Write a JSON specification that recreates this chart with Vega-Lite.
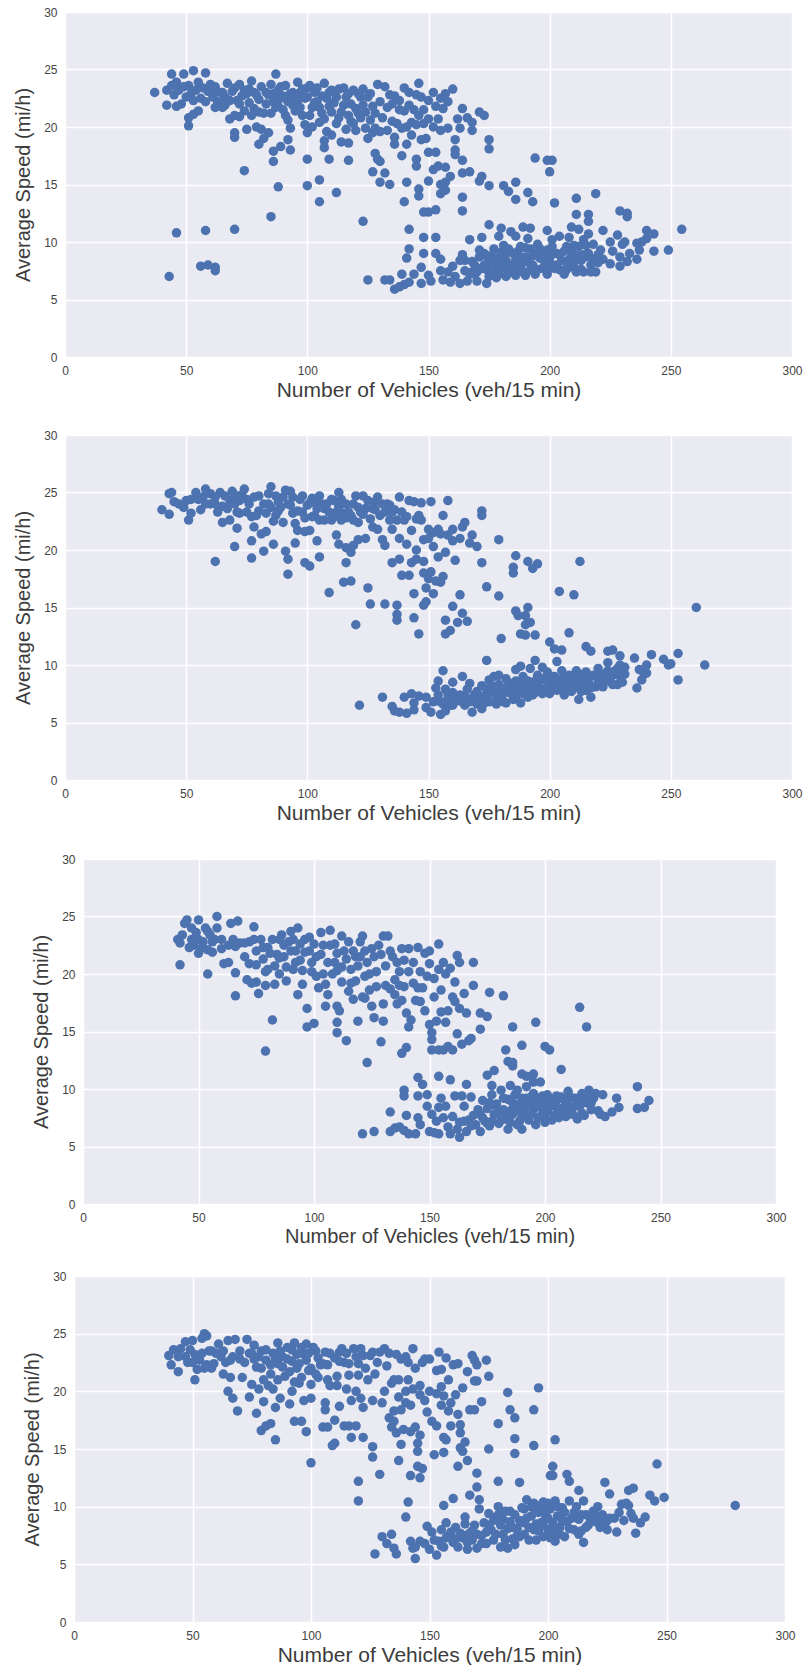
{"$schema":"https://vega.github.io/schema/vega-lite/v6.json","padding":{"top":6,"left":0,"right":0,"bottom":0},"background":"white","spacing":0,
"config":{"view":{"fill":"#EAEAF2","stroke":null},"concat":{"spacing":0},
"axis":{"grid":true,"gridColor":"white","gridWidth":1.5,"domain":false,"ticks":false,"labelFont":"Liberation Sans","labelFontSize":12,"labelColor":"#444444","labelPadding":8,"labelFlush":false,"titleFont":"Liberation Sans","titleFontWeight":"normal","titleFontSize":20,"titleColor":"#3c3c3c"},
"axisX":{"labelAngle":0,"tickCount":7,"titlePadding":3,"titleFontSize":21},"axisY":{"tickCount":7,"titlePadding":10},
"point":{"filled":true,"opacity":1,"color":"#4C72B0","size":90}},
"vconcat":[
{"hconcat":[{"width":13,"height":417,"view":{"fill":null},"data":{"values":[]},"mark":"point","encoding":{}},
{"width":727,"height":345,"data":{"values":[{"n":37,"s":23},{"n":42,"s":23.2},{"n":42,"s":21.9},{"n":44,"s":24.6},{"n":44,"s":23.6},{"n":45,"s":22.8},{"n":46,"s":23.9},{"n":46,"s":21.8},{"n":47,"s":23.2},{"n":48,"s":22},{"n":49,"s":24.6},{"n":49,"s":23.5},{"n":50,"s":22.6},{"n":51,"s":23.6},{"n":51,"s":20.1},{"n":51,"s":20.8},{"n":52,"s":22.9},{"n":53,"s":24.9},{"n":53,"s":21.1},{"n":54,"s":23.2},{"n":55,"s":21.4},{"n":55,"s":23.9},{"n":56,"s":22.5},{"n":57,"s":23.4},{"n":58,"s":24.7},{"n":59,"s":23.1},{"n":60,"s":23.7},{"n":61,"s":22.6},{"n":62,"s":21.7},{"n":62,"s":23.5},{"n":63,"s":22.2},{"n":64,"s":23},{"n":65,"s":21.7},{"n":66,"s":22.6},{"n":67,"s":23.8},{"n":68,"s":20.7},{"n":69,"s":23.1},{"n":70,"s":21},{"n":70,"s":19.5},{"n":70,"s":19.1},{"n":71,"s":22.3},{"n":72,"s":23.7},{"n":72,"s":20.9},{"n":74,"s":21.4},{"n":75,"s":22.9},{"n":75,"s":19.8},{"n":76,"s":22.1},{"n":77,"s":24},{"n":78,"s":23},{"n":78,"s":21.6},{"n":79,"s":20},{"n":80,"s":22.4},{"n":81,"s":19.8},{"n":81,"s":23.5},{"n":82,"s":21.2},{"n":82,"s":19},{"n":80,"s":18.5},{"n":84,"s":19.5},{"n":84,"s":22.8},{"n":85,"s":23.7},{"n":86,"s":22.2},{"n":87,"s":24.6},{"n":87,"s":21.7},{"n":88,"s":23.2},{"n":89,"s":22.5},{"n":90,"s":21.5},{"n":91,"s":23.6},{"n":92,"s":22.2},{"n":92,"s":20.6},{"n":93,"s":19.9},{"n":94,"s":23},{"n":95,"s":21.4},{"n":96,"s":23.9},{"n":96,"s":22.3},{"n":98,"s":23.3},{"n":98,"s":21},{"n":99,"s":20.2},{"n":100,"s":22.6},{"n":100,"s":19.5},{"n":101,"s":23.6},{"n":102,"s":21.7},{"n":102,"s":20},{"n":103,"s":23},{"n":104,"s":22.2},{"n":105,"s":20.4},{"n":106,"s":21.2},{"n":107,"s":23.8},{"n":107,"s":18.2},{"n":107,"s":18.8},{"n":108,"s":22.5},{"n":108,"s":19.6},{"n":110,"s":23.2},{"n":110,"s":21.3},{"n":110,"s":19.3},{"n":112,"s":22.6},{"n":113,"s":20.8},{"n":114,"s":18.7},{"n":115,"s":23.4},{"n":115,"s":21.9},{"n":116,"s":19.8},{"n":117,"s":18.6},{"n":117,"s":22.9},{"n":118,"s":20.5},{"n":119,"s":23.2},{"n":120,"s":21.6},{"n":120,"s":19.7},{"n":122,"s":22.6},{"n":122,"s":20.8},{"n":123,"s":23.3},{"n":124,"s":21.3},{"n":124,"s":19.9},{"n":125,"s":19},{"n":126,"s":22.9},{"n":127,"s":19.5},{"n":128,"s":21.2},{"n":129,"s":23.7},{"n":130,"s":22.2},{"n":130,"s":19.6},{"n":132,"s":23.5},{"n":133,"s":19.7},{"n":133,"s":21.7},{"n":135,"s":22},{"n":136,"s":22.7},{"n":136,"s":18.5},{"n":136,"s":19.1},{"n":137,"s":20.3},{"n":138,"s":21.5},{"n":139,"s":19.9},{"n":140,"s":23.4},{"n":140,"s":21.4},{"n":141,"s":20},{"n":142,"s":23},{"n":143,"s":20.4},{"n":144,"s":21.5},{"n":145,"s":20.2},{"n":146,"s":23.8},{"n":147,"s":22.6},{"n":147,"s":18.9},{"n":148,"s":21.5},{"n":148,"s":20.3},{"n":149,"s":19},{"n":150,"s":22.3},{"n":152,"s":23},{"n":152,"s":20},{"n":153,"s":21.8},{"n":154,"s":20.7},{"n":155,"s":19.7},{"n":156,"s":21.6},{"n":157,"s":22.9},{"n":158,"s":19.9},{"n":158,"s":22.2},{"n":160,"s":23.3},{"n":161,"s":18.9},{"n":161,"s":18},{"n":161,"s":17.6},{"n":162,"s":20.7},{"n":163,"s":19.9},{"n":164,"s":21.6},{"n":166,"s":20.8},{"n":53,"s":22.3},{"n":58,"s":22.2},{"n":61,"s":23.2},{"n":65,"s":23},{"n":66,"s":21.9},{"n":68,"s":22.3},{"n":70,"s":23.4},{"n":72,"s":22},{"n":73,"s":22.7},{"n":74,"s":23.2},{"n":76,"s":23.3},{"n":77,"s":21},{"n":79,"s":22.8},{"n":80,"s":21.3},{"n":83,"s":23},{"n":83,"s":22},{"n":85,"s":21.2},{"n":86,"s":22.9},{"n":88,"s":21.8},{"n":89,"s":23.5},{"n":90,"s":22.7},{"n":91,"s":21},{"n":93,"s":22.9},{"n":94,"s":21.9},{"n":95,"s":22.6},{"n":97,"s":23},{"n":97,"s":21.7},{"n":99,"s":22.5},{"n":100,"s":23.4},{"n":101,"s":21},{"n":103,"s":22.1},{"n":104,"s":23.4},{"n":105,"s":21.7},{"n":106,"s":22.7},{"n":107,"s":20.7},{"n":109,"s":23},{"n":109,"s":21.8},{"n":111,"s":22.1},{"n":112,"s":20.3},{"n":113,"s":23.3},{"n":114,"s":21.3},{"n":116,"s":22.6},{"n":117,"s":21},{"n":118,"s":22},{"n":119,"s":20.3},{"n":121,"s":22.9},{"n":121,"s":21.2},{"n":123,"s":21.9},{"n":125,"s":22.6},{"n":126,"s":20.6},{"n":127,"s":21.8},{"n":128,"s":19.9},{"n":131,"s":20.8},{"n":134,"s":22.8},{"n":135,"s":20.5},{"n":138,"s":22.3},{"n":142,"s":21.9},{"n":143,"s":19.3},{"n":145,"s":22.8},{"n":146,"s":21},{"n":150,"s":20.7},{"n":155,"s":22.5},{"n":74,"s":16.2},{"n":86,"s":17},{"n":86,"s":17.9},{"n":88,"s":14.8},{"n":85,"s":12.2},{"n":89,"s":18.3},{"n":92,"s":18.9},{"n":93,"s":18},{"n":100,"s":17.2},{"n":100,"s":14.9},{"n":105,"s":15.4},{"n":105,"s":13.5},{"n":109,"s":17.2},{"n":112,"s":14.3},{"n":117,"s":17.1},{"n":123,"s":11.8},{"n":70,"s":11.1},{"n":58,"s":11},{"n":46,"s":10.8},{"n":43,"s":7},{"n":56,"s":7.9},{"n":59,"s":8},{"n":62,"s":7.8},{"n":62,"s":7.5},{"n":127,"s":16.1},{"n":128,"s":17.7},{"n":129,"s":17.2},{"n":130,"s":17},{"n":130,"s":15.2},{"n":132,"s":16},{"n":134,"s":15},{"n":139,"s":17.5},{"n":140,"s":13.5},{"n":141,"s":15.2},{"n":141,"s":18.5},{"n":145,"s":17.2},{"n":145,"s":16.6},{"n":146,"s":14.6},{"n":146,"s":14},{"n":148,"s":12.6},{"n":150,"s":12.6},{"n":153,"s":12.8},{"n":150,"s":15.3},{"n":150,"s":17.8},{"n":153,"s":17.8},{"n":152,"s":16.3},{"n":154,"s":16.6},{"n":157,"s":16.5},{"n":155,"s":15},{"n":155,"s":14.2},{"n":157,"s":15.2},{"n":157,"s":14.5},{"n":159,"s":15.7},{"n":164,"s":17.1},{"n":164,"s":16},{"n":167,"s":16.1},{"n":164,"s":13.9},{"n":164,"s":12.7},{"n":171,"s":15.3},{"n":172,"s":15.7},{"n":175,"s":14.9},{"n":175,"s":18.1},{"n":175,"s":18.9},{"n":171,"s":21.3},{"n":173,"s":21},{"n":168,"s":19.7},{"n":168,"s":20.4},{"n":181,"s":14.9},{"n":183,"s":14.4},{"n":186,"s":13.7},{"n":186,"s":15.2},{"n":191,"s":14.3},{"n":193,"s":13.5},{"n":194,"s":17.3},{"n":199,"s":17.1},{"n":201,"s":17.1},{"n":200,"s":16.1},{"n":202,"s":13.4},{"n":211,"s":13.8},{"n":219,"s":14.2},{"n":211,"s":12.4},{"n":216,"s":12.4},{"n":216,"s":11.8},{"n":229,"s":12.7},{"n":232,"s":12.5},{"n":232,"s":12.2},{"n":125,"s":6.7},{"n":132,"s":6.7},{"n":134,"s":6.7},{"n":136,"s":5.9},{"n":138,"s":6.1},{"n":139,"s":7.2},{"n":140,"s":6.3},{"n":141,"s":8.6},{"n":142,"s":9.4},{"n":142,"s":11.1},{"n":142,"s":6.5},{"n":144,"s":7.2},{"n":147,"s":7.8},{"n":147,"s":6.4},{"n":148,"s":10.4},{"n":148,"s":9},{"n":150,"s":7.1},{"n":151,"s":6.6},{"n":153,"s":10.4},{"n":153,"s":9},{"n":155,"s":8.5},{"n":155,"s":7.5},{"n":156,"s":6.7},{"n":158,"s":7.4},{"n":159,"s":6.5},{"n":160,"s":7.9},{"n":161,"s":7},{"n":163,"s":8.4},{"n":163,"s":6.4},{"n":164,"s":8.9},{"n":165,"s":7.5},{"n":166,"s":6.6},{"n":167,"s":10.2},{"n":168,"s":8.3},{"n":168,"s":7.4},{"n":169,"s":7.2},{"n":170,"s":6.6},{"n":171,"s":8.7},{"n":172,"s":10.4},{"n":172,"s":7.7},{"n":173,"s":9},{"n":174,"s":6.4},{"n":174,"s":7.6},{"n":175,"s":11.5},{"n":175,"s":8.2},{"n":176,"s":7.2},{"n":176,"s":8.8},{"n":177,"s":9.4},{"n":178,"s":8.6},{"n":178,"s":6.9},{"n":178,"s":7.5},{"n":179,"s":10.5},{"n":180,"s":11.2},{"n":180,"s":7.7},{"n":180,"s":9.1},{"n":181,"s":9.7},{"n":182,"s":8.4},{"n":182,"s":7},{"n":183,"s":8},{"n":184,"s":9.1},{"n":184,"s":7.7},{"n":184,"s":10.9},{"n":186,"s":8.5},{"n":186,"s":7.1},{"n":186,"s":10.5},{"n":187,"s":9.2},{"n":188,"s":9.6},{"n":188,"s":7.8},{"n":189,"s":11.3},{"n":189,"s":8.2},{"n":190,"s":8.7},{"n":190,"s":7.1},{"n":191,"s":10.3},{"n":192,"s":11.2},{"n":192,"s":9.4},{"n":193,"s":8},{"n":194,"s":7.2},{"n":194,"s":9},{"n":195,"s":9.8},{"n":196,"s":8.6},{"n":197,"s":7.7},{"n":197,"s":8.5},{"n":198,"s":7.9},{"n":199,"s":11},{"n":199,"s":9.3},{"n":199,"s":7.2},{"n":200,"s":8.3},{"n":201,"s":10.2},{"n":201,"s":8.9},{"n":202,"s":7.7},{"n":203,"s":9},{"n":204,"s":10.5},{"n":204,"s":7.6},{"n":205,"s":8.4},{"n":206,"s":7.2},{"n":207,"s":9.6},{"n":207,"s":8.2},{"n":208,"s":10.4},{"n":208,"s":7.8},{"n":209,"s":11.3},{"n":209,"s":9.2},{"n":210,"s":8.9},{"n":211,"s":7.4},{"n":211,"s":8.5},{"n":212,"s":9.6},{"n":212,"s":11.1},{"n":213,"s":8.4},{"n":214,"s":10.2},{"n":214,"s":7.4},{"n":215,"s":8.7},{"n":216,"s":9},{"n":216,"s":10.7},{"n":217,"s":8},{"n":218,"s":9.8},{"n":219,"s":7.4},{"n":220,"s":8.9},{"n":222,"s":11},{"n":222,"s":8.5},{"n":225,"s":8.1},{"n":225,"s":10},{"n":226,"s":9.2},{"n":228,"s":10.6},{"n":229,"s":8.7},{"n":229,"s":7.9},{"n":230,"s":9.8},{"n":231,"s":10},{"n":232,"s":8.3},{"n":233,"s":9},{"n":236,"s":8.5},{"n":236,"s":9.9},{"n":237,"s":9.3},{"n":238,"s":10},{"n":240,"s":11},{"n":240,"s":10.3},{"n":243,"s":10.7},{"n":243,"s":9.2},{"n":249,"s":9.3},{"n":254.5,"s":11.1},{"n":165,"s":8.4},{"n":167,"s":7.2},{"n":169,"s":8},{"n":170,"s":7.4},{"n":171,"s":9.3},{"n":173,"s":8},{"n":174,"s":8.8},{"n":175,"s":7},{"n":177,"s":8},{"n":179,"s":7.2},{"n":179,"s":8.2},{"n":181,"s":8.8},{"n":183,"s":9.4},{"n":183,"s":7.3},{"n":185,"s":8},{"n":185,"s":9},{"n":187,"s":7.6},{"n":187,"s":8.7},{"n":189,"s":7.4},{"n":190,"s":9.5},{"n":191,"s":8.3},{"n":192,"s":7.6},{"n":193,"s":8.8},{"n":195,"s":7.6},{"n":196,"s":9.4},{"n":198,"s":8.9},{"n":200,"s":7.7},{"n":201,"s":9.6},{"n":203,"s":8},{"n":204,"s":8.9},{"n":205,"s":7.5},{"n":206,"s":9.2},{"n":207,"s":7.6},{"n":208,"s":8.5},{"n":210,"s":7.9},{"n":210,"s":9.7},{"n":212,"s":8.8},{"n":213,"s":7.6},{"n":214,"s":8.9},{"n":215,"s":9.7},{"n":217,"s":7.4},{"n":218,"s":8.5},{"n":220,"s":8.2},{"n":221,"s":9.3}]},"mark":"point","encoding":{"x":{"field":"n","type":"quantitative","scale":{"domain":[0,300]},"title":"Number of Vehicles (veh/15 min)"},"y":{"field":"s","type":"quantitative","scale":{"domain":[0,30]},"title":"Average Speed (mi/h)"}}}]},
{"hconcat":[{"width":13,"height":418,"view":{"fill":null},"data":{"values":[]},"mark":"point","encoding":{}},
{"width":727,"height":345,"data":{"values":[{"n":40,"s":23.5},{"n":43,"s":23.1},{"n":43,"s":24.9},{"n":44,"s":25},{"n":45,"s":24.2},{"n":47,"s":24},{"n":49,"s":23.7},{"n":51,"s":22.6},{"n":52,"s":23.2},{"n":54,"s":25},{"n":52,"s":24.4},{"n":56,"s":23.5},{"n":57,"s":24.6},{"n":58,"s":25.3},{"n":60,"s":24.9},{"n":60,"s":24},{"n":62,"s":24},{"n":64,"s":25},{"n":65,"s":23.8},{"n":65,"s":22.4},{"n":66,"s":24.7},{"n":68,"s":22.6},{"n":68,"s":24.3},{"n":69,"s":25.1},{"n":70,"s":24},{"n":71,"s":21.9},{"n":72,"s":23.2},{"n":73,"s":24.8},{"n":74,"s":25.3},{"n":75,"s":24.4},{"n":70,"s":20.3},{"n":62,"s":19},{"n":76,"s":24},{"n":77,"s":22.9},{"n":77,"s":20.8},{"n":77,"s":19.3},{"n":78,"s":22},{"n":80,"s":24.7},{"n":80,"s":23.4},{"n":81,"s":21.4},{"n":82,"s":19.9},{"n":82,"s":24},{"n":83,"s":21.6},{"n":84,"s":24.9},{"n":85,"s":25.5},{"n":85,"s":23.7},{"n":86,"s":22.5},{"n":86,"s":20.5},{"n":88,"s":24.2},{"n":88,"s":23.4},{"n":90,"s":22.4},{"n":91,"s":25.2},{"n":91,"s":19.9},{"n":92,"s":19.2},{"n":92,"s":17.9},{"n":92,"s":24},{"n":93,"s":23.9},{"n":93,"s":25.1},{"n":95,"s":22.3},{"n":95,"s":20.6},{"n":96,"s":21.7},{"n":97,"s":24.4},{"n":98,"s":23.3},{"n":99,"s":21.6},{"n":99,"s":18.9},{"n":100,"s":23.9},{"n":101,"s":21.7},{"n":101,"s":18.6},{"n":102,"s":24.5},{"n":103,"s":23},{"n":103,"s":24.2},{"n":104,"s":20.8},{"n":105,"s":24.7},{"n":105,"s":22.6},{"n":105,"s":19.4},{"n":107,"s":23.6},{"n":108,"s":24},{"n":109,"s":16.3},{"n":110,"s":22.6},{"n":111,"s":24.3},{"n":112,"s":21.3},{"n":112,"s":23.3},{"n":113,"s":25},{"n":113,"s":20.5},{"n":113,"s":23.8},{"n":114,"s":22.6},{"n":115,"s":17.2},{"n":116,"s":24},{"n":116,"s":20.2},{"n":116,"s":18.9},{"n":117,"s":23.3},{"n":118,"s":19.8},{"n":118,"s":17.3},{"n":118,"s":23},{"n":119,"s":20.4},{"n":120,"s":24.7},{"n":120,"s":13.5},{"n":121,"s":22.4},{"n":121,"s":20.9},{"n":122,"s":23.3},{"n":123,"s":24.7},{"n":124,"s":21},{"n":124,"s":23.6},{"n":125,"s":16.7},{"n":126,"s":15.3},{"n":127,"s":22},{"n":127,"s":23.6},{"n":128,"s":23.5},{"n":129,"s":24.6},{"n":129,"s":21.8},{"n":130,"s":23},{"n":131,"s":20.9},{"n":132,"s":20.4},{"n":132,"s":15.3},{"n":133,"s":24},{"n":134,"s":22.6},{"n":135,"s":21.8},{"n":135,"s":18.9},{"n":136,"s":23.5},{"n":137,"s":15.2},{"n":137,"s":14.4},{"n":137,"s":13.9},{"n":138,"s":24.6},{"n":138,"s":19.2},{"n":138,"s":21},{"n":139,"s":17.8},{"n":140,"s":22.6},{"n":141,"s":20.5},{"n":142,"s":24.3},{"n":142,"s":17.8},{"n":143,"s":18.9},{"n":143,"s":21.7},{"n":144,"s":24.2},{"n":144,"s":16.2},{"n":144,"s":14.1},{"n":145,"s":20},{"n":145,"s":19.2},{"n":146,"s":23},{"n":146,"s":12.7},{"n":147,"s":24.1},{"n":148,"s":20.9},{"n":148,"s":19},{"n":148,"s":18},{"n":148,"s":15.2},{"n":149,"s":16.7},{"n":149,"s":15.5},{"n":150,"s":21},{"n":150,"s":17.5},{"n":151,"s":24.2},{"n":151,"s":18.1},{"n":152,"s":16.2},{"n":152,"s":21.5},{"n":152,"s":20.3},{"n":153,"s":17.3},{"n":154,"s":21.8},{"n":154,"s":19.4},{"n":155,"s":17.2},{"n":156,"s":23},{"n":156,"s":17.7},{"n":157,"s":19.8},{"n":157,"s":13.9},{"n":157,"s":12.7},{"n":158,"s":24.3},{"n":158,"s":21.3},{"n":159,"s":13},{"n":160,"s":15.1},{"n":160,"s":21.8},{"n":160,"s":20.8},{"n":161,"s":19.1},{"n":162,"s":13.7},{"n":163,"s":21},{"n":163,"s":16.1},{"n":164,"s":22},{"n":164,"s":14.5},{"n":165,"s":22.4},{"n":166,"s":13.8},{"n":167,"s":20.6},{"n":168,"s":21.3},{"n":170,"s":20.3},{"n":172,"s":23.4},{"n":172,"s":23},{"n":172,"s":18.9},{"n":174,"s":16.8},{"n":179,"s":20.9},{"n":179,"s":16},{"n":185,"s":18.5},{"n":185,"s":18},{"n":186,"s":19.5},{"n":186,"s":14.7},{"n":187,"s":14.3},{"n":191,"s":19},{"n":190,"s":13.5},{"n":190,"s":14.3},{"n":191,"s":15},{"n":192,"s":13.7},{"n":188,"s":12.7},{"n":190,"s":12.6},{"n":194,"s":12.6},{"n":193,"s":18.4},{"n":195,"s":18.8},{"n":180,"s":12.3},{"n":204,"s":16.4},{"n":210,"s":16.1},{"n":212.5,"s":19},{"n":208,"s":12.8},{"n":200,"s":12},{"n":202,"s":11.4},{"n":205,"s":11.3},{"n":215,"s":11.6},{"n":217,"s":11.2},{"n":224,"s":11.2},{"n":226,"s":11.3},{"n":229,"s":10.8},{"n":235,"s":10.6},{"n":242,"s":10.9},{"n":247,"s":10.5},{"n":249,"s":10},{"n":250,"s":10.1},{"n":253,"s":11},{"n":253,"s":8.7},{"n":260.5,"s":15},{"n":264,"s":10},{"n":50,"s":24.3},{"n":55,"s":24.4},{"n":58,"s":24},{"n":62,"s":24.6},{"n":63,"s":23.3},{"n":67,"s":23.6},{"n":70,"s":24.8},{"n":71,"s":23.3},{"n":72,"s":24.3},{"n":75,"s":23.3},{"n":78,"s":24.6},{"n":79,"s":23},{"n":83,"s":23.2},{"n":84,"s":24},{"n":87,"s":24.7},{"n":87,"s":23},{"n":89,"s":23.7},{"n":90,"s":24.6},{"n":94,"s":24.6},{"n":94,"s":23.2},{"n":96,"s":23.4},{"n":98,"s":24.7},{"n":99,"s":22.8},{"n":101,"s":24.1},{"n":102,"s":22.9},{"n":104,"s":23.6},{"n":106,"s":24},{"n":107,"s":22.6},{"n":109,"s":23.3},{"n":110,"s":24.4},{"n":111,"s":22.9},{"n":114,"s":24.4},{"n":115,"s":23.2},{"n":116,"s":22.8},{"n":119,"s":24},{"n":119,"s":22.6},{"n":121,"s":23.7},{"n":123,"s":23.1},{"n":125,"s":24.3},{"n":126,"s":22.7},{"n":128,"s":24.2},{"n":131,"s":24},{"n":132,"s":23.3},{"n":134,"s":23.9},{"n":135,"s":23.3},{"n":137,"s":22.6},{"n":139,"s":23.3},{"n":141,"s":22.9},{"n":145,"s":22.7},{"n":147,"s":22.6},{"n":150,"s":21.8},{"n":155,"s":21.4},{"n":121.5,"s":6.5},{"n":131,"s":7.2},{"n":135,"s":6.4},{"n":136,"s":6},{"n":138,"s":5.9},{"n":140,"s":7.2},{"n":141,"s":5.8},{"n":143,"s":7.5},{"n":144,"s":6.1},{"n":144,"s":6.7},{"n":146,"s":7.3},{"n":149,"s":7.2},{"n":149,"s":6.3},{"n":151,"s":5.9},{"n":152,"s":6.8},{"n":153,"s":8},{"n":154,"s":8.6},{"n":154,"s":7.4},{"n":155,"s":5.7},{"n":156,"s":6.6},{"n":156,"s":9.5},{"n":157,"s":7.9},{"n":157,"s":6},{"n":158,"s":7.1},{"n":159,"s":6.5},{"n":160,"s":8.5},{"n":160,"s":7.6},{"n":162,"s":6.9},{"n":163,"s":7.4},{"n":164,"s":9},{"n":165,"s":6.5},{"n":166,"s":7.9},{"n":167,"s":8.4},{"n":168,"s":5.9},{"n":168,"s":7.1},{"n":170,"s":6.6},{"n":170,"s":7.7},{"n":172,"s":6.2},{"n":172,"s":8.2},{"n":173,"s":7.3},{"n":174,"s":10.4},{"n":175,"s":8.7},{"n":175,"s":6.8},{"n":177,"s":7.7},{"n":177,"s":9},{"n":178,"s":6.6},{"n":179,"s":8.3},{"n":179,"s":9.1},{"n":180,"s":7.2},{"n":182,"s":8.8},{"n":182,"s":6.7},{"n":183,"s":7.9},{"n":184,"s":8.4},{"n":185,"s":7},{"n":186,"s":9.6},{"n":186,"s":8.6},{"n":187,"s":7.7},{"n":188,"s":6.7},{"n":188,"s":9.9},{"n":189,"s":9},{"n":190,"s":8.1},{"n":191,"s":7.2},{"n":192,"s":9.7},{"n":192,"s":8.5},{"n":193,"s":7.4},{"n":194,"s":10.4},{"n":195,"s":9.1},{"n":196,"s":8},{"n":197,"s":7.5},{"n":197,"s":9.8},{"n":198,"s":8.7},{"n":199,"s":9.4},{"n":200,"s":7.5},{"n":200,"s":8.4},{"n":202,"s":9},{"n":203,"s":7.8},{"n":203,"s":10.3},{"n":204,"s":8.6},{"n":205,"s":9.5},{"n":206,"s":7.4},{"n":207,"s":8.3},{"n":208,"s":9.1},{"n":209,"s":7.7},{"n":210,"s":8.6},{"n":211,"s":9.5},{"n":212,"s":7},{"n":212,"s":8.2},{"n":213,"s":8.9},{"n":215,"s":9.4},{"n":215,"s":7.8},{"n":216,"s":8.5},{"n":217,"s":7.2},{"n":218,"s":9.1},{"n":219,"s":8.1},{"n":220,"s":9.7},{"n":221,"s":8.7},{"n":222,"s":8.1},{"n":224,"s":9.5},{"n":224,"s":10.2},{"n":225,"s":8.6},{"n":226,"s":9.1},{"n":228,"s":8.3},{"n":228,"s":9.7},{"n":229,"s":10},{"n":230,"s":8.5},{"n":231,"s":9.2},{"n":231,"s":9.8},{"n":236,"s":8},{"n":237,"s":9.6},{"n":238,"s":8.7},{"n":239,"s":9.2},{"n":240,"s":10},{"n":240,"s":9.3},{"n":155,"s":6.8},{"n":158,"s":7.5},{"n":160,"s":6.5},{"n":161,"s":7.1},{"n":164,"s":6.8},{"n":165,"s":7.3},{"n":167,"s":6.8},{"n":169,"s":7.4},{"n":171,"s":7},{"n":173,"s":6.7},{"n":174,"s":7.9},{"n":175,"s":7.5},{"n":176,"s":8.2},{"n":178,"s":7.3},{"n":180,"s":8},{"n":181,"s":7.5},{"n":181,"s":6.8},{"n":183,"s":8.2},{"n":184,"s":7.5},{"n":185,"s":8},{"n":186,"s":7.2},{"n":187,"s":8.3},{"n":189,"s":7.5},{"n":189,"s":8.5},{"n":191,"s":8.6},{"n":192,"s":7.9},{"n":194,"s":8.6},{"n":194,"s":7.6},{"n":195,"s":8.2},{"n":197,"s":8.8},{"n":198,"s":7.9},{"n":199,"s":8.7},{"n":201,"s":8},{"n":201,"s":9},{"n":203,"s":8.3},{"n":205,"s":8.8},{"n":205,"s":8},{"n":207,"s":8.9},{"n":208,"s":7.8},{"n":209,"s":8.4},{"n":210,"s":9.1},{"n":211,"s":8.1},{"n":213,"s":7.7},{"n":214,"s":8.5},{"n":214,"s":9.2},{"n":216,"s":9},{"n":217,"s":8},{"n":219,"s":9},{"n":220,"s":8.5},{"n":222,"s":9.2},{"n":223,"s":8.7},{"n":226,"s":8.3},{"n":227,"s":9.5},{"n":229,"s":9},{"n":230,"s":9.8}]},"mark":"point","encoding":{"x":{"field":"n","type":"quantitative","scale":{"domain":[0,300]},"title":"Number of Vehicles (veh/15 min)"},"y":{"field":"s","type":"quantitative","scale":{"domain":[0,30]},"title":"Average Speed (mi/h)"}}}]},
{"hconcat":[{"width":31,"height":411,"view":{"fill":null},"data":{"values":[]},"mark":"point","encoding":{}},
{"width":693,"height":345,"data":{"values":[{"n":41,"s":23},{"n":42,"s":22.7},{"n":43,"s":23.4},{"n":42,"s":20.8},{"n":44,"s":24.4},{"n":45,"s":24.7},{"n":47,"s":23},{"n":48,"s":22.5},{"n":49,"s":23.6},{"n":50,"s":24.7},{"n":50,"s":21.8},{"n":52,"s":22.8},{"n":53,"s":24},{"n":54,"s":20},{"n":54,"s":22.1},{"n":55,"s":23.4},{"n":56,"s":21.9},{"n":57,"s":23},{"n":58,"s":25},{"n":58,"s":24},{"n":60,"s":23},{"n":61,"s":20.9},{"n":63,"s":21},{"n":63,"s":22.5},{"n":64,"s":24.4},{"n":65,"s":23},{"n":66,"s":20.1},{"n":66,"s":18.1},{"n":67,"s":24.6},{"n":68,"s":22.7},{"n":70,"s":21.5},{"n":71,"s":19.5},{"n":72,"s":20.9},{"n":72,"s":22.8},{"n":73,"s":19.2},{"n":74,"s":24.1},{"n":75,"s":22},{"n":75,"s":19.3},{"n":76,"s":18.3},{"n":77,"s":23},{"n":78,"s":21.3},{"n":79,"s":13.3},{"n":79,"s":19},{"n":80,"s":20.4},{"n":80,"s":22.3},{"n":82,"s":16},{"n":82,"s":23},{"n":83,"s":19.1},{"n":84,"s":21.7},{"n":85,"s":20},{"n":86,"s":23.4},{"n":87,"s":21.5},{"n":88,"s":19.4},{"n":89,"s":22.8},{"n":90,"s":23.7},{"n":91,"s":20.4},{"n":92,"s":22},{"n":93,"s":24},{"n":93,"s":18.2},{"n":94,"s":21.2},{"n":95,"s":19.1},{"n":96,"s":23},{"n":97,"s":17},{"n":97,"s":15.4},{"n":98,"s":22},{"n":99,"s":20.2},{"n":100,"s":15.7},{"n":101,"s":21.5},{"n":102,"s":18.8},{"n":103,"s":23.6},{"n":104,"s":20},{"n":105,"s":17.2},{"n":106,"s":18.2},{"n":107,"s":22.5},{"n":107,"s":23.8},{"n":109,"s":21},{"n":110,"s":20.3},{"n":110,"s":17.2},{"n":110,"s":15.8},{"n":110,"s":14.9},{"n":111,"s":16.8},{"n":112,"s":23.3},{"n":112,"s":19.3},{"n":113,"s":22},{"n":114,"s":14.2},{"n":115,"s":18.5},{"n":116,"s":20.4},{"n":117,"s":17.8},{"n":118,"s":21.5},{"n":118,"s":19.4},{"n":119,"s":15.9},{"n":120,"s":22.8},{"n":121,"s":23.3},{"n":121,"s":18},{"n":122,"s":19.8},{"n":123,"s":12.3},{"n":123,"s":21},{"n":124,"s":18.6},{"n":125,"s":22.2},{"n":125,"s":17.2},{"n":126,"s":16.2},{"n":127,"s":20.2},{"n":128,"s":22.5},{"n":129,"s":14.1},{"n":130,"s":23.3},{"n":130,"s":15.9},{"n":130,"s":17.4},{"n":131,"s":20.7},{"n":132,"s":23.3},{"n":133,"s":18.7},{"n":134,"s":21.5},{"n":135,"s":19.5},{"n":135,"s":18.2},{"n":136,"s":17.4},{"n":137,"s":20.2},{"n":138,"s":22.2},{"n":138,"s":17.7},{"n":139,"s":18.9},{"n":138,"s":13.1},{"n":140,"s":16.6},{"n":140,"s":13.6},{"n":141,"s":15.4},{"n":141,"s":22.2},{"n":142,"s":16},{"n":143,"s":21},{"n":143,"s":19.2},{"n":144,"s":17.7},{"n":145,"s":22.3},{"n":146,"s":20.2},{"n":146,"s":17.6},{"n":147,"s":18.8},{"n":148,"s":21.8},{"n":148,"s":16.8},{"n":149,"s":19.8},{"n":150,"s":22},{"n":150,"s":15.6},{"n":151,"s":14.9},{"n":151,"s":14.3},{"n":151,"s":13.4},{"n":152,"s":18},{"n":153,"s":15.9},{"n":154,"s":13.4},{"n":154,"s":20.4},{"n":154,"s":22.6},{"n":155,"s":18.6},{"n":155,"s":16.7},{"n":156,"s":21},{"n":156,"s":13.4},{"n":157,"s":20},{"n":157,"s":15.8},{"n":158,"s":16.8},{"n":158,"s":13.7},{"n":159,"s":20.5},{"n":160,"s":18},{"n":160,"s":13.4},{"n":161,"s":19.3},{"n":161,"s":17.6},{"n":162,"s":21.6},{"n":162,"s":14.8},{"n":163,"s":17},{"n":163,"s":21},{"n":164,"s":13.9},{"n":165,"s":18.3},{"n":166,"s":16.6},{"n":167,"s":14.2},{"n":168,"s":14.4},{"n":169,"s":19},{"n":169,"s":21},{"n":172,"s":16.6},{"n":172,"s":15.2},{"n":175,"s":16.3},{"n":176,"s":18.4},{"n":182,"s":18.1},{"n":183,"s":13.4},{"n":186,"s":15.4},{"n":190,"s":13.8},{"n":196,"s":15.8},{"n":200,"s":13.7},{"n":202,"s":13.4},{"n":215,"s":17.1},{"n":218,"s":15.4},{"n":207,"s":11.7},{"n":184,"s":12.4},{"n":186,"s":12.3},{"n":186,"s":12},{"n":190,"s":11.3},{"n":192,"s":11.1},{"n":195,"s":11.3},{"n":195,"s":10.6},{"n":198,"s":10.6},{"n":175,"s":11.2},{"n":178,"s":11.6},{"n":145,"s":11},{"n":147,"s":10.4},{"n":154,"s":11.1},{"n":159,"s":10.8},{"n":166,"s":10.4},{"n":240,"s":10.2},{"n":240,"s":8.3},{"n":243,"s":8.4},{"n":245,"s":9},{"n":46,"s":22.3},{"n":47,"s":24},{"n":50,"s":23},{"n":51,"s":22.2},{"n":54,"s":23.7},{"n":56,"s":22.8},{"n":60,"s":22.2},{"n":66,"s":22.4},{"n":70,"s":22.7},{"n":74,"s":23},{"n":75,"s":20.8},{"n":78,"s":22.3},{"n":79,"s":20.2},{"n":81,"s":21.8},{"n":83,"s":20.7},{"n":85,"s":23},{"n":85,"s":21.4},{"n":87,"s":22.5},{"n":88,"s":20.6},{"n":90,"s":22},{"n":91,"s":23},{"n":92,"s":21},{"n":94,"s":22.6},{"n":95,"s":20.3},{"n":96,"s":21.9},{"n":98,"s":23.2},{"n":99,"s":21},{"n":100,"s":22.6},{"n":101,"s":19.8},{"n":103,"s":21.7},{"n":104,"s":22.5},{"n":105,"s":19.1},{"n":106,"s":21},{"n":108,"s":20},{"n":109,"s":22.6},{"n":110,"s":21.8},{"n":112,"s":20.6},{"n":114,"s":21.3},{"n":115,"s":22.8},{"n":116,"s":19.2},{"n":117,"s":22},{"n":119,"s":20.7},{"n":120,"s":21.5},{"n":122,"s":22},{"n":122,"s":17.9},{"n":124,"s":20},{"n":126,"s":21.5},{"n":127,"s":18.9},{"n":129,"s":21.7},{"n":131,"s":19},{"n":133,"s":22},{"n":136,"s":21},{"n":137,"s":19},{"n":139,"s":21.2},{"n":141,"s":20.2},{"n":145,"s":18.8},{"n":150,"s":20.9},{"n":152,"s":19.6},{"n":121,"s":6.1},{"n":126,"s":6.3},{"n":133,"s":6.3},{"n":133,"s":8},{"n":135,"s":6.6},{"n":137,"s":6.7},{"n":139,"s":6.4},{"n":139,"s":9.9},{"n":139,"s":9.4},{"n":140,"s":7.7},{"n":141,"s":6.1},{"n":144,"s":6.1},{"n":145,"s":9.4},{"n":145,"s":7.5},{"n":146,"s":6.9},{"n":149,"s":9.5},{"n":149,"s":8.5},{"n":150,"s":6.3},{"n":151,"s":7.8},{"n":152,"s":6.2},{"n":153,"s":7.2},{"n":154,"s":6.1},{"n":154,"s":8.4},{"n":155,"s":9.2},{"n":156,"s":7.5},{"n":157,"s":8.5},{"n":158,"s":6.7},{"n":159,"s":6.1},{"n":160,"s":7.6},{"n":161,"s":9.4},{"n":162,"s":6.5},{"n":163,"s":5.8},{"n":163,"s":7.1},{"n":164,"s":9.4},{"n":165,"s":8.5},{"n":166,"s":6.3},{"n":167,"s":7.3},{"n":168,"s":9.3},{"n":170,"s":6.9},{"n":172,"s":7.8},{"n":172,"s":6.3},{"n":173,"s":9},{"n":174,"s":7.2},{"n":175,"s":8.3},{"n":176,"s":6.8},{"n":177,"s":9.5},{"n":177,"s":10.3},{"n":178,"s":7.8},{"n":179,"s":8.7},{"n":180,"s":7},{"n":181,"s":9.9},{"n":182,"s":8.2},{"n":183,"s":7.4},{"n":184,"s":6.5},{"n":184,"s":9.1},{"n":185,"s":10.3},{"n":186,"s":7.8},{"n":187,"s":8.7},{"n":188,"s":9.9},{"n":188,"s":6.9},{"n":190,"s":7.7},{"n":190,"s":6.5},{"n":190,"s":9.2},{"n":191,"s":8.3},{"n":192,"s":10.2},{"n":193,"s":7.3},{"n":194,"s":9.3},{"n":195,"s":8.2},{"n":196,"s":6.9},{"n":196,"s":9},{"n":198,"s":7.6},{"n":198,"s":8.6},{"n":199,"s":9.4},{"n":200,"s":7.1},{"n":201,"s":8.1},{"n":202,"s":9.1},{"n":203,"s":7.3},{"n":204,"s":8.5},{"n":205,"s":9.4},{"n":206,"s":7.5},{"n":207,"s":8.3},{"n":208,"s":9.1},{"n":209,"s":7.6},{"n":210,"s":9.8},{"n":210,"s":8.6},{"n":212,"s":7.8},{"n":213,"s":9.2},{"n":214,"s":7.4},{"n":215,"s":8.5},{"n":216,"s":9.6},{"n":217,"s":7.7},{"n":218,"s":8.8},{"n":219,"s":9.9},{"n":220,"s":8.2},{"n":221,"s":9.2},{"n":222,"s":9.6},{"n":223,"s":8.1},{"n":224,"s":7.8},{"n":225,"s":9.5},{"n":226,"s":7.6},{"n":229,"s":8},{"n":231,"s":9.2},{"n":232,"s":8.4},{"n":165,"s":7.2},{"n":168,"s":6.8},{"n":169,"s":7.7},{"n":171,"s":8.2},{"n":173,"s":7.5},{"n":175,"s":7},{"n":176,"s":8.8},{"n":177,"s":7.2},{"n":178,"s":8.6},{"n":180,"s":8},{"n":181,"s":7.3},{"n":182,"s":9.2},{"n":183,"s":8},{"n":185,"s":7.1},{"n":185,"s":9},{"n":186,"s":8.3},{"n":187,"s":9.5},{"n":188,"s":8.1},{"n":189,"s":7.2},{"n":190,"s":8.7},{"n":192,"s":9.2},{"n":192,"s":7.7},{"n":193,"s":8.6},{"n":194,"s":7.8},{"n":195,"s":9.6},{"n":196,"s":8.5},{"n":197,"s":7.5},{"n":197,"s":9.2},{"n":199,"s":8.2},{"n":200,"s":8.8},{"n":200,"s":7.5},{"n":201,"s":9.5},{"n":203,"s":8.6},{"n":204,"s":7.7},{"n":205,"s":9},{"n":206,"s":8.2},{"n":207,"s":9.3},{"n":208,"s":7.9},{"n":209,"s":8.6},{"n":211,"s":9.3},{"n":211,"s":8},{"n":213,"s":8.5},{"n":215,"s":9.2},{"n":216,"s":7.9},{"n":218,"s":9.4},{"n":220,"s":8.8}]},"mark":"point","encoding":{"x":{"field":"n","type":"quantitative","scale":{"domain":[0,300]},"axis":{"titleFontSize":20},"title":"Number of Vehicles (veh/15 min)"},"y":{"field":"s","type":"quantitative","scale":{"domain":[0,30]},"title":"Average Speed (mi/h)"}}}]},
{"hconcat":[{"width":22,"height":10,"view":{"fill":null},"data":{"values":[]},"mark":"point","encoding":{}},
{"width":711,"height":346,"data":{"values":[{"n":40,"s":23.1},{"n":41,"s":22.3},{"n":42,"s":23.6},{"n":44,"s":21.7},{"n":45,"s":23.7},{"n":47,"s":23},{"n":47,"s":24.3},{"n":48,"s":22.5},{"n":50,"s":24.4},{"n":51,"s":23.2},{"n":51,"s":21},{"n":52,"s":21.9},{"n":53,"s":22.7},{"n":54,"s":24.6},{"n":55,"s":25},{"n":56,"s":24.8},{"n":56,"s":22.3},{"n":57,"s":23.5},{"n":58,"s":22},{"n":60,"s":23.3},{"n":61,"s":24.1},{"n":62,"s":23},{"n":63,"s":21.5},{"n":64,"s":22.5},{"n":65,"s":24.4},{"n":65,"s":20},{"n":66,"s":21.2},{"n":67,"s":23},{"n":67,"s":19.4},{"n":68,"s":24.5},{"n":69,"s":18.3},{"n":70,"s":22.8},{"n":71,"s":21.2},{"n":73,"s":24.5},{"n":74,"s":23.3},{"n":74,"s":19.5},{"n":75,"s":20.6},{"n":76,"s":22.8},{"n":76,"s":24},{"n":77,"s":18.1},{"n":78,"s":20.2},{"n":79,"s":23.5},{"n":79,"s":22},{"n":80,"s":19.1},{"n":79,"s":16.6},{"n":81,"s":17},{"n":83,"s":17.2},{"n":83,"s":21.5},{"n":84,"s":20.2},{"n":84,"s":23.3},{"n":85,"s":15.8},{"n":85,"s":18.6},{"n":86,"s":24.2},{"n":86,"s":22.4},{"n":87,"s":19.4},{"n":88,"s":23},{"n":89,"s":21.3},{"n":91,"s":18.9},{"n":92,"s":23.6},{"n":92,"s":20},{"n":93,"s":24.2},{"n":93,"s":17.4},{"n":94,"s":22},{"n":95,"s":20.7},{"n":96,"s":17.4},{"n":97,"s":23.2},{"n":97,"s":19.2},{"n":98,"s":24.1},{"n":98,"s":16.5},{"n":99,"s":21.8},{"n":100,"s":20.6},{"n":100,"s":19.4},{"n":100,"s":13.8},{"n":102,"s":23.5},{"n":103,"s":21.2},{"n":104,"s":22.3},{"n":105,"s":16.9},{"n":106,"s":19},{"n":106,"s":18.4},{"n":107,"s":21},{"n":107,"s":16.9},{"n":108,"s":23.3},{"n":109,"s":15.3},{"n":110,"s":15.5},{"n":110,"s":17.5},{"n":111,"s":20.5},{"n":112,"s":22.6},{"n":112,"s":18.7},{"n":113,"s":23.7},{"n":114,"s":17},{"n":115,"s":20.2},{"n":116,"s":21.4},{"n":116,"s":17},{"n":117,"s":16},{"n":117,"s":19.2},{"n":118,"s":23.7},{"n":119,"s":17},{"n":119,"s":20},{"n":120,"s":22.4},{"n":120,"s":12.2},{"n":120,"s":10.5},{"n":121,"s":23.7},{"n":121,"s":19.4},{"n":122,"s":18.6},{"n":122,"s":16},{"n":123,"s":22},{"n":124,"s":21},{"n":126,"s":23.4},{"n":126,"s":19.2},{"n":126,"s":15.2},{"n":126,"s":14.3},{"n":128,"s":22.5},{"n":129,"s":12.8},{"n":130,"s":19},{"n":131,"s":23.7},{"n":131,"s":20},{"n":132,"s":22.2},{"n":133,"s":17.7},{"n":134,"s":20.7},{"n":134,"s":16.9},{"n":135,"s":18.3},{"n":135,"s":17.4},{"n":136,"s":23.2},{"n":136,"s":16.4},{"n":137,"s":14},{"n":137,"s":21},{"n":137,"s":19.5},{"n":138,"s":15.4},{"n":138,"s":18.4},{"n":139,"s":16.7},{"n":140,"s":19},{"n":140,"s":23},{"n":140,"s":20},{"n":141,"s":21},{"n":142,"s":18.8},{"n":142,"s":16.5},{"n":142,"s":12.7},{"n":143,"s":23.7},{"n":143,"s":20.2},{"n":144,"s":16.9},{"n":144,"s":22},{"n":145,"s":15.5},{"n":145,"s":14.8},{"n":145,"s":13.5},{"n":146,"s":12.5},{"n":146,"s":19.7},{"n":146,"s":16.2},{"n":147,"s":22.5},{"n":148,"s":19.2},{"n":147,"s":13.3},{"n":149,"s":18.2},{"n":150,"s":22.8},{"n":151,"s":17.4},{"n":152,"s":14.5},{"n":153,"s":21.8},{"n":153,"s":19.8},{"n":153,"s":17},{"n":154,"s":23.4},{"n":155,"s":20.4},{"n":155,"s":18.8},{"n":156,"s":16},{"n":156,"s":14.7},{"n":157,"s":22.9},{"n":157,"s":15.8},{"n":158,"s":21},{"n":158,"s":18.3},{"n":159,"s":19},{"n":159,"s":17},{"n":160,"s":22.3},{"n":161,"s":19.7},{"n":162,"s":22.4},{"n":162,"s":18},{"n":162,"s":13.5},{"n":163,"s":15.1},{"n":163,"s":17.1},{"n":163,"s":16.4},{"n":164,"s":20.3},{"n":164,"s":14.8},{"n":165,"s":15.6},{"n":166,"s":14},{"n":166,"s":21.7},{"n":167,"s":18.4},{"n":168,"s":23.1},{"n":169,"s":22.7},{"n":169,"s":18.4},{"n":169,"s":20.9},{"n":170,"s":22.3},{"n":170,"s":20.9},{"n":170,"s":12.9},{"n":172,"s":19.1},{"n":174,"s":22.7},{"n":175,"s":21.3},{"n":175,"s":15},{"n":179,"s":17.2},{"n":179,"s":12.2},{"n":183,"s":19.9},{"n":184,"s":18.4},{"n":186,"s":17.7},{"n":186,"s":15.9},{"n":186,"s":14.6},{"n":188,"s":12.1},{"n":194,"s":18.4},{"n":194,"s":15.3},{"n":196,"s":20.3},{"n":203,"s":15.8},{"n":202,"s":13.5},{"n":201,"s":12.7},{"n":202,"s":12.7},{"n":208,"s":12.8},{"n":209,"s":12.2},{"n":213,"s":11.4},{"n":224,"s":12.1},{"n":226,"s":11.1},{"n":234,"s":11.4},{"n":236,"s":11.6},{"n":246,"s":13.7},{"n":243,"s":11},{"n":245,"s":10.5},{"n":249,"s":10.8},{"n":279,"s":10.1},{"n":170,"s":11.7},{"n":167,"s":11},{"n":171,"s":10.6},{"n":160,"s":10.7},{"n":156,"s":10.1},{"n":141,"s":10.4},{"n":140,"s":9.1},{"n":44,"s":23},{"n":49,"s":23.6},{"n":50,"s":22.5},{"n":54,"s":23.3},{"n":55,"s":22},{"n":58,"s":23.5},{"n":59,"s":22.4},{"n":63,"s":23.5},{"n":66,"s":22.7},{"n":70,"s":23.5},{"n":72,"s":22.5},{"n":75,"s":23.3},{"n":77,"s":22.1},{"n":78,"s":23},{"n":80,"s":21},{"n":81,"s":22.7},{"n":81,"s":23.6},{"n":82,"s":20.5},{"n":83,"s":22.3},{"n":85,"s":22.9},{"n":86,"s":21},{"n":87,"s":23.5},{"n":88,"s":22.1},{"n":90,"s":22.8},{"n":90,"s":23.8},{"n":91,"s":21.7},{"n":92,"s":22.6},{"n":93,"s":20.8},{"n":94,"s":23.2},{"n":95,"s":22.4},{"n":96,"s":21.2},{"n":96,"s":23.8},{"n":98,"s":22.7},{"n":99,"s":23.3},{"n":100,"s":22},{"n":101,"s":23.8},{"n":102,"s":21.5},{"n":103,"s":22.9},{"n":105,"s":22.4},{"n":106,"s":23.4},{"n":107,"s":22.3},{"n":108,"s":20.5},{"n":110,"s":22.9},{"n":111,"s":21.3},{"n":112,"s":23.4},{"n":114,"s":22.5},{"n":115,"s":23.3},{"n":116,"s":22.4},{"n":119,"s":23},{"n":120,"s":21.4},{"n":122,"s":23.1},{"n":125,"s":23.1},{"n":127,"s":21.5},{"n":129,"s":23.4},{"n":133,"s":23.3},{"n":135,"s":21},{"n":138,"s":22.8},{"n":141,"s":22.5},{"n":146,"s":20.5},{"n":148,"s":22.8},{"n":150,"s":20},{"n":155,"s":21.9},{"n":156,"s":19.6},{"n":127,"s":5.9},{"n":130,"s":7.4},{"n":132,"s":6.8},{"n":134,"s":7.6},{"n":135,"s":6.4},{"n":136,"s":5.9},{"n":142,"s":7},{"n":143,"s":6.4},{"n":144,"s":5.5},{"n":144,"s":6.5},{"n":146,"s":7},{"n":148,"s":6.8},{"n":149,"s":8.3},{"n":150,"s":6.3},{"n":151,"s":7.8},{"n":153,"s":5.8},{"n":154,"s":7},{"n":155,"s":8},{"n":156,"s":6.5},{"n":157,"s":8.6},{"n":158,"s":7.5},{"n":160,"s":6.9},{"n":161,"s":8.2},{"n":162,"s":6.5},{"n":164,"s":7.3},{"n":165,"s":8.5},{"n":165,"s":9.1},{"n":166,"s":6.3},{"n":167,"s":7.7},{"n":168,"s":7.1},{"n":169,"s":8.4},{"n":170,"s":6.4},{"n":171,"s":9.8},{"n":172,"s":7.5},{"n":173,"s":8.6},{"n":174,"s":6.8},{"n":175,"s":9.4},{"n":176,"s":8},{"n":177,"s":7.1},{"n":178,"s":9.1},{"n":179,"s":10},{"n":180,"s":6.5},{"n":180,"s":8.4},{"n":181,"s":7.6},{"n":182,"s":9.6},{"n":183,"s":6.4},{"n":184,"s":8.7},{"n":185,"s":7.2},{"n":186,"s":9.3},{"n":186,"s":6.7},{"n":187,"s":8.1},{"n":188,"s":7.4},{"n":190,"s":9.8},{"n":190,"s":8.6},{"n":191,"s":10.6},{"n":192,"s":7.1},{"n":193,"s":9.2},{"n":194,"s":8},{"n":194,"s":10.3},{"n":195,"s":7.1},{"n":196,"s":9.5},{"n":197,"s":8.6},{"n":198,"s":10.4},{"n":198,"s":7.4},{"n":199,"s":9},{"n":200,"s":8},{"n":201,"s":9.8},{"n":202,"s":7.6},{"n":202,"s":8.6},{"n":203,"s":10.5},{"n":203,"s":7},{"n":204,"s":9.2},{"n":205,"s":8.2},{"n":206,"s":9.9},{"n":207,"s":7.4},{"n":208,"s":8.7},{"n":209,"s":10.5},{"n":210,"s":9},{"n":211,"s":8},{"n":212,"s":10},{"n":213,"s":8.9},{"n":214,"s":7.9},{"n":215,"s":6.9},{"n":215,"s":10.5},{"n":216,"s":9.3},{"n":217,"s":8.4},{"n":219,"s":9.6},{"n":220,"s":8.7},{"n":221,"s":10},{"n":222,"s":8.2},{"n":223,"s":9.3},{"n":225,"s":8.8},{"n":225,"s":8},{"n":228,"s":9},{"n":229,"s":7.8},{"n":230,"s":9.5},{"n":231,"s":10.2},{"n":232,"s":8.8},{"n":233,"s":10.3},{"n":234,"s":10.1},{"n":235,"s":9.4},{"n":236,"s":9},{"n":237,"s":7.7},{"n":239,"s":8.6},{"n":241,"s":9.1},{"n":152,"s":7.1},{"n":155,"s":6.6},{"n":157,"s":7.3},{"n":159,"s":7.8},{"n":161,"s":7.2},{"n":163,"s":7.7},{"n":165,"s":7.5},{"n":166,"s":6.9},{"n":168,"s":7.9},{"n":170,"s":7.6},{"n":172,"s":6.8},{"n":174,"s":7.8},{"n":175,"s":8.4},{"n":177,"s":8.8},{"n":178,"s":7.6},{"n":179,"s":9.3},{"n":181,"s":8.9},{"n":182,"s":7.1},{"n":183,"s":8.1},{"n":184,"s":9.6},{"n":185,"s":8.2},{"n":187,"s":7.5},{"n":188,"s":8.8},{"n":189,"s":9.9},{"n":190,"s":7.6},{"n":191,"s":9},{"n":192,"s":8.2},{"n":193,"s":10},{"n":195,"s":8.5},{"n":195,"s":9.7},{"n":196,"s":7.9},{"n":197,"s":10.1},{"n":198,"s":8.4},{"n":199,"s":9.6},{"n":200,"s":9},{"n":200,"s":10.3},{"n":201,"s":7.3},{"n":203,"s":8.2},{"n":204,"s":10},{"n":205,"s":7.6},{"n":206,"s":8.8},{"n":207,"s":9.5},{"n":209,"s":8.1},{"n":211,"s":9.5},{"n":213,"s":7.6},{"n":214,"s":9.3},{"n":216,"s":8.2},{"n":218,"s":8.9},{"n":220,"s":9.3},{"n":222,"s":9},{"n":224,"s":8.5},{"n":226,"s":9}]},"mark":"point","encoding":{"x":{"field":"n","type":"quantitative","scale":{"domain":[0,300]},"title":"Number of Vehicles (veh/15 min)"},"y":{"field":"s","type":"quantitative","scale":{"domain":[0,30]},"title":"Average Speed (mi/h)"}}}]}
]}
